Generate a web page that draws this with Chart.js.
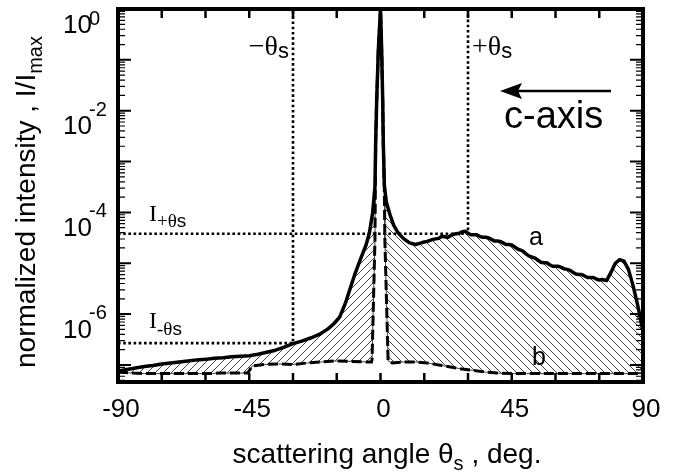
<!DOCTYPE html>
<html><head><meta charset="utf-8">
<script src="https://cdn.jsdelivr.net/npm/chart.js@4.4.1/dist/chart.umd.min.js"></script>
<style>html,body{margin:0;padding:0;background:#fff}</style>
</head><body>
<canvas id="c" width="675" height="473"></canvas>
<script>
// ---- data (angle in deg, log10 of normalized intensity) ----
const angleA = [-90,-87,-84,-81,-78,-75,-72,-69,-66,-63,-60,-57,-54,-51,-48,-45,-42,-39,-36,-33,-30,-27,-24,-21,-18,-16,-14,-12,-10.6,-9,-7,-5,-3.8,-2.7,-1.9,-1.65,-1.3,-0.75,0,
  0.4,0.75,0.95,1.3,2,3.3,4.5,6,8,10,12,14,15,16,17,18,19,20,21,22,23,24,25,26,27,28,29,30,31,32,33,34,35,36,37,38,39,40,41,42,43,44,45,46,47,48,49,50,51,52,53,54,55,56,57,58,59,60,61,62,63,64,65,66,67,68,69,70,71,72,73,74,75,76,77.5,79,80.5,82,83.5,85,86.5,88,89,90];
const log10IntensityA = [-7.12,-7.09,-7.06,-7.03,-7.01,-6.98,-6.96,-6.94,-6.92,-6.90,-6.89,-6.87,-6.86,-6.84,-6.83,-6.82,-6.79,-6.75,-6.71,-6.65,-6.58,-6.53,-6.47,-6.40,-6.29,-6.19,-6.06,-5.78,-5.53,-5.25,-4.94,-4.65,-4.40,-4.01,-3.50,-2.60,-1.79,-0.81,0,
  -0.81,-1.79,-2.60,-3.45,-3.80,-4.05,-4.25,-4.40,-4.52,-4.60,-4.63,-4.60,-4.58,-4.57,-4.55,-4.53,-4.52,-4.51,-4.47,-4.48,-4.49,-4.46,-4.43,-4.42,-4.41,-4.38,-4.37,-4.41,-4.44,-4.44,-4.44,-4.47,-4.49,-4.49,-4.50,-4.53,-4.56,-4.56,-4.57,-4.60,-4.63,-4.63,-4.64,-4.68,-4.72,-4.74,-4.77,-4.82,-4.86,-4.88,-4.90,-4.94,-4.98,-4.99,-4.99,-5.03,-5.06,-5.06,-5.06,-5.08,-5.11,-5.12,-5.14,-5.18,-5.21,-5.22,-5.22,-5.25,-5.28,-5.28,-5.28,-5.31,-5.33,-5.32,-5.34,-5.18,-5.00,-4.93,-4.96,-5.12,-5.42,-5.78,-6.05,-6.35];
const angleB = [-90,-85,-80,-75,-70,-65,-60,-55,-50,-45.5,-44,-40,-35,-30,-25,-20,-15,-10,-5,-3.1,-2.9,-1.9,-1.65,-1.3,-0.75,0,
  0.4,0.75,0.95,1.3,1.5,2.6,4,8,12,16,20,24,28,32,36,40,45,50,60,70,80,90];
const log10IntensityB = [-7.14,-7.16,-7.17,-7.17,-7.17,-7.17,-7.17,-7.16,-7.16,-7.16,-7.02,-6.99,-6.98,-6.99,-6.96,-6.94,-6.92,-6.93,-6.94,-6.94,-6.90,-4.54,-2.60,-1.79,-0.81,0,
  -0.81,-1.79,-2.60,-3.45,-4.54,-6.92,-6.96,-6.94,-6.94,-6.96,-7.00,-7.04,-7.08,-7.11,-7.14,-7.16,-7.17,-7.17,-7.17,-7.17,-7.17,-7.17];
const xTickLabels = [-90, -45, 0, 45, 90];
const yTickExponents = [0, -2, -4, -6];
const thetaS = 30;                 // marked scattering angle
const log10IPlus = -4.42;          // I(+theta_s)
const log10IMinus = -6.57;         // I(-theta_s)
const yMinLog = -7.335, yMaxLog = 0;

// ---- build points ----
const pts = (xs, ls) => xs.map((x, i) => ({x, y: Math.pow(10, ls[i])}));
const ptsA = pts(angleA, log10IntensityA);
const ptsB = pts(angleB, log10IntensityB);
const aLeft = ptsA.filter(p => p.x <= 0), aRight = ptsA.filter(p => p.x >= 0);
const bLeft = ptsB.filter(p => p.x <= 0), bRight = ptsB.filter(p => p.x >= 0);

function hatch(up) {
  const c = document.createElement('canvas'); c.width = c.height = 8;
  const g = c.getContext('2d'); g.strokeStyle = '#444'; g.lineWidth = 1;
  g.beginPath();
  if (up) { g.moveTo(0, 8); g.lineTo(8, 0); g.moveTo(-1, 1); g.lineTo(1, -1); g.moveTo(7, 9); g.lineTo(9, 7); }
  else { g.moveTo(0, 0); g.lineTo(8, 8); g.moveTo(-1, 7); g.lineTo(1, 9); g.moveTo(7, -1); g.lineTo(9, 1); }
  g.stroke();
  return g.createPattern(c, 'repeat');
}
const ctx0 = document.getElementById('c').getContext('2d');
const patL = hatch(true), patR = hatch(false);

const SANS = '"Liberation Sans", Arial, Helvetica, sans-serif';
const SERIF = '"Liberation Serif", "Times New Roman", serif';

function drawRich(ctx, segs, x, y, align) {
  let w = 0;
  segs.forEach(s => { ctx.font = s.font; s.w = ctx.measureText(s.t).width; w += s.w; });
  let cx = align === 'center' ? x - w / 2 : align === 'right' ? x - w : x;
  ctx.textAlign = 'left'; ctx.textBaseline = 'alphabetic';
  segs.forEach(s => { ctx.font = s.font; ctx.fillText(s.t, cx, y + (s.dy || 0)); cx += s.w; });
}

const decor = {
  id: 'decor',
  afterDraw(chart) {
    const {ctx, chartArea: ca, scales: {x, y}} = chart;
    ctx.save();
    ctx.fillStyle = '#000'; ctx.strokeStyle = '#000';
    // ticks (inward)
    ctx.lineWidth = 2.5;
    for (let v = -90; v <= 90; v += 15) {
      const px = x.getPixelForValue(v);
      ctx.beginPath();
      ctx.moveTo(px, ca.bottom); ctx.lineTo(px, ca.bottom - 9);
      ctx.moveTo(px, ca.top); ctx.lineTo(px, ca.top + 9);
      ctx.stroke();
    }
    for (let e = -8; e <= 0; e++) {
      for (let k = 1; k <= 9; k++) {
        const lv = e + Math.log10(k);
        if (lv < yMinLog || lv > yMaxLog + 1e-9) continue;
        const py = y.getPixelForValue(Math.pow(10, lv));
        const len = k === 1 ? 13 : 7;
        ctx.lineWidth = k === 1 ? 2 : 1.2;
        ctx.beginPath();
        ctx.moveTo(ca.left, py); ctx.lineTo(ca.left + len, py);
        ctx.moveTo(ca.right, py); ctx.lineTo(ca.right - len, py);
        ctx.stroke();
      }
    }
    // frame
    ctx.lineWidth = 4;
    ctx.strokeRect(ca.left, ca.top, ca.right - ca.left, ca.bottom - ca.top);
    // x tick labels
    ctx.font = '26px ' + SANS; ctx.textAlign = 'center'; ctx.textBaseline = 'alphabetic';
    xTickLabels.forEach(v => ctx.fillText(String(v), x.getPixelForValue(v) + 3, 417));
    // y tick labels
    yTickExponents.forEach(e => {
      const py = y.getPixelForValue(Math.pow(10, e));
      ctx.font = '26px ' + SANS; ctx.textAlign = 'left';
      ctx.fillText('10', 63, py + 23.5);
      ctx.font = '20px ' + SANS;
      ctx.fillText(String(e), 89, py + (e === 0 ? 16 : 5));
    });
    // axis titles
    drawRich(ctx, [
      {t: 'scattering angle θ', font: '28px ' + SANS},
      {t: 's', font: '20px ' + SANS, dy: 7},
      {t: ' , deg.', font: '28px ' + SANS}
    ], 387, 463, 'center');
    ctx.save();
    ctx.translate(35, 202); ctx.rotate(-Math.PI / 2);
    drawRich(ctx, [
      {t: 'normalized intensity , I/I', font: '28px ' + SANS},
      {t: 'max', font: '20px ' + SANS, dy: 7}
    ], 0, 0, 'center');
    ctx.restore();
    // annotations
    drawRich(ctx, [{t: '−θ', font: '28px ' + SERIF}, {t: 's', font: '22px ' + SANS, dy: 3}], 289, 55, 'right');
    drawRich(ctx, [{t: '+θ', font: '28px ' + SERIF}, {t: 's', font: '22px ' + SANS, dy: 3}], 472, 55, 'left');
    drawRich(ctx, [{t: 'I', font: '24px ' + SERIF}, {t: '+θ', font: '19px ' + SERIF, dy: 6}, {t: 's', font: '19px ' + SANS, dy: 6}], 149, 221, 'left');
    drawRich(ctx, [{t: 'I', font: '24px ' + SERIF}, {t: '-θ', font: '19px ' + SERIF, dy: 7}, {t: 's', font: '19px ' + SANS, dy: 7}], 149, 328, 'left');
    ctx.font = '25px ' + SANS; ctx.textAlign = 'left';
    ctx.fillText('a', 529, 245);
    ctx.fillText('b', 532, 365);
    ctx.font = '38px ' + SANS;
    ctx.fillText('c-axis', 504, 128);
    // arrow
    ctx.lineWidth = 2.5;
    ctx.beginPath(); ctx.moveTo(611, 91); ctx.lineTo(515, 91); ctx.stroke();
    ctx.beginPath(); ctx.moveTo(500, 91); ctx.lineTo(522, 83); ctx.lineTo(518, 91); ctx.lineTo(522, 99); ctx.closePath(); ctx.fill();
    ctx.restore();
  }
};

const refPlus = [{x: -90, y: Math.pow(10, log10IPlus)}, {x: thetaS, y: Math.pow(10, log10IPlus)}, {x: thetaS, y: 1}];
const refMinus = [{x: -90, y: Math.pow(10, log10IMinus)}, {x: -thetaS, y: Math.pow(10, log10IMinus)}, {x: -thetaS, y: 1}];

new Chart(ctx0, {
  type: 'line',
  data: {
    datasets: [
      {data: ptsA, borderColor: '#000', borderWidth: 3.5, fill: false, order: 0, borderJoinStyle: 'round', borderCapStyle: 'round'},
      {data: ptsB, borderColor: '#000', borderWidth: 3, borderDash: [10, 4], fill: false, order: 1},
      {data: refPlus, borderColor: '#000', borderWidth: 2.6, borderDash: [2.6, 2.6], fill: false, order: 2},
      {data: refMinus, borderColor: '#000', borderWidth: 2.6, borderDash: [2.6, 2.6], fill: false, order: 2},
      {data: aLeft, borderWidth: 0, borderColor: 'rgba(0,0,0,0)', backgroundColor: patL, fill: '+1', order: 10},
      {data: bLeft, borderWidth: 1, borderColor: '#444', fill: false, order: 9},
      {data: aRight, borderWidth: 0, borderColor: 'rgba(0,0,0,0)', backgroundColor: patR, fill: '+1', order: 10},
      {data: bRight, borderWidth: 1, borderColor: '#444', fill: false, order: 9}
    ]
  },
  options: {
    responsive: false, animation: false, devicePixelRatio: 1,
    layout: {padding: {left: 118, right: 32, top: 9, bottom: 91}},
    elements: {point: {radius: 0, hoverRadius: 0}, line: {tension: 0}},
    plugins: {legend: {display: false}, tooltip: {enabled: false}},
    events: [],
    scales: {
      x: {type: 'linear', min: -90, max: 90, display: false},
      y: {type: 'logarithmic', min: Math.pow(10, yMinLog), max: Math.pow(10, yMaxLog), display: false}
    }
  },
  plugins: [decor]
});
</script>
</body></html>
